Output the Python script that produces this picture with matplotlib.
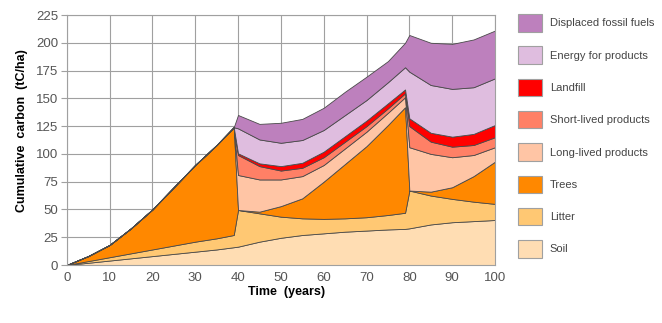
import numpy as np
import matplotlib.pyplot as plt
from matplotlib.patches import Patch

plt.rcParams['font.family'] = ['Liberation Sans', 'DejaVu Sans']

# time axis (harvests between 39->40 and 79->80)
years = [0, 5, 10, 15, 20, 25, 30, 35, 39,
         40, 45, 50, 55, 60, 65, 70, 75, 79,
         80, 85, 90, 95, 100]

# carbon in each pool (tC/ha)
soil = [0, 2, 4, 6, 8, 10, 12, 14, 16,
        16.5, 21, 24.5, 27, 28.5, 30, 31, 32, 32.5,
        33, 36.5, 38.5, 39.5, 40.5]
litter = [0, 1.5, 3, 4.5, 6, 7.5, 9, 10, 11,
          33, 25.5, 19, 15, 13, 12, 12, 13, 14.5,
          34, 26, 21, 17.5, 14.5]
trees = [0, 4.5, 11, 22.5, 36, 52.5, 69, 84, 97,
         0, 1.5, 9.5, 18, 33.5, 49, 64, 81, 95,
         0, 3.5, 10.5, 23, 38]
long_lived = [0, 0, 0, 0, 0, 0, 0, 0, 0,
              31.5, 29, 24, 20, 15, 14, 13, 11, 9,
              39, 34, 27, 19, 13]
short_lived = [0, 0, 0, 0, 0, 0, 0, 0, 0,
               18, 12, 8, 7.5, 7, 6, 5, 4, 3.5,
               19, 11, 9.5, 9, 9]
landfill = [0, 0, 0, 0, 0, 0, 0, 0, 0,
            1.5, 2.5, 4, 4.5, 5, 5, 5, 4.5, 3.5,
            7, 8, 9, 10, 11]
energy = [0, 0, 0, 0, 0, 0, 0, 0, 0,
          22.5, 21.5, 21, 20.5, 19.5, 19, 18.5, 19, 20,
          42, 43, 43, 42, 42]
displaced = [0, 0, 0, 0, 0, 0, 0, 0, 0,
             12, 14, 18, 19, 20, 21, 21, 19, 22,
             33, 38, 40.5, 43, 43]

labels = ['Soil', 'Litter', 'Trees', 'Long-lived products',
          'Short-lived products', 'Landfill', 'Energy for products',
          'Displaced fossil fuels']
colors = ['#FFDDB3', '#FFC873', '#FF8800', '#FFC5A5',
          '#FF8066', '#FF0000', '#DFBDDF', '#BD80BD']

fig = plt.figure(figsize=(6.62, 3.23), dpi=100)
ax = fig.add_axes([66.7/662, 58/323, (495-66.7)/662, 250/323])

ax.stackplot(years, soil, litter, trees, long_lived, short_lived,
             landfill, energy, displaced, colors=colors,
             edgecolor='#4a4a4a', linewidth=0.6)

ax.set_xlim(0, 100)
ax.set_ylim(0, 225)
ax.set_xticks(range(0, 101, 10))
ax.set_yticks(range(0, 226, 25))
ax.grid(True, color='#a0a0a0', linewidth=0.8)
ax.set_axisbelow(True)
for s in ax.spines.values():
    s.set_color('#a0a0a0')
    s.set_linewidth(0.8)
ax.tick_params(axis='y', length=4, color='#a0a0a0', pad=2,
               labelsize=9.5, labelcolor='#555555')
ax.tick_params(axis='x', length=0, pad=5,
               labelsize=9.5, labelcolor='#555555')

ax.set_xlabel('Time  (years)', fontsize=9, fontweight='bold')
ax.set_ylabel('Cumulative  carbon  (tC/ha)', fontsize=9, fontweight='bold')
ax.xaxis.set_label_coords(0.514, -0.085)
ax.yaxis.set_label_coords(-0.09, 0.536)

handles = [Patch(facecolor=c, edgecolor='#a0a0a0', linewidth=0.8)
           for c in colors]
fig.legend(handles[::-1], labels[::-1], loc='upper left',
           bbox_to_anchor=(518/662, 1 - 14/323), frameon=False,
           fontsize=8, handlelength=2.15, handleheight=2.05,
           labelspacing=1.33, handletextpad=0.7, borderpad=0,
           borderaxespad=0, labelcolor='#444444')

fig.savefig('out.png', dpi=100)
